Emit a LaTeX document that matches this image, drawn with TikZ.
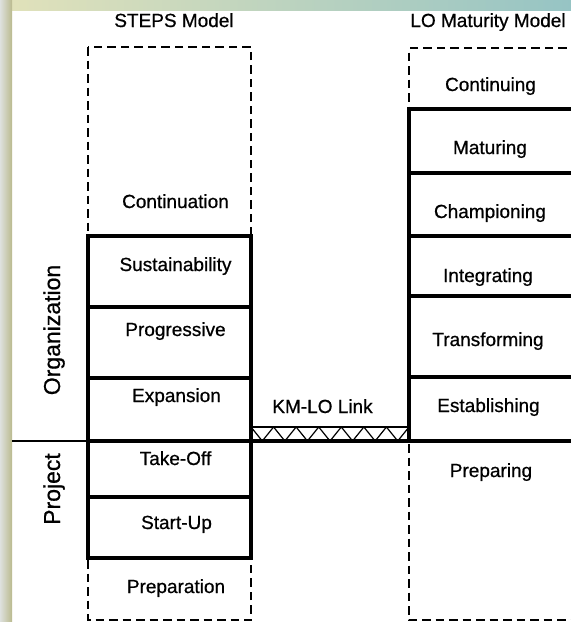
\documentclass[tikz,border=0pt]{standalone}
\usepackage{fontspec}
\setmainfont[FakeBold=0.7]{Liberation Sans}
\begin{document}
\begin{tikzpicture}[x=1pt,y=-1pt,
  solidbox/.style={draw=black, line width=4pt, minimum width=163pt, inner sep=0pt, outer sep=0pt, anchor=north west},
  lobox/.style={draw=black, line width=4pt, minimum width=175pt, inner sep=0pt, outer sep=0pt, anchor=north west},
  dashline/.style={draw=black, line width=2.8pt, dash pattern=on 8.5pt off 5pt},
  lbl/.style={font=\fontsize{19}{22}\selectfont, anchor=base, inner sep=0pt},
  sidelbl/.style={font=\fontsize{23}{26}\selectfont, anchor=base, rotate=90, inner sep=0pt},
]
\useasboundingbox (0,0) rectangle (571,622);
\clip (0,0) rectangle (571,622);
\fill[white] (0,0) rectangle (571,622);
% slide frame
\shade[left color={rgb,255:red,226;green,226;blue,186}, middle color={rgb,255:red,196;green,208;blue,190}, right color={rgb,255:red,150;green,196;blue,196}] (0,0) rectangle (571,10);
\shade[left color={rgb,255:red,222;green,225;blue,222}, right color={rgb,255:red,186;green,186;blue,142}] (0,0) rectangle (12,622);

% dashed outlines
\draw[dashline] (88,47) rectangle (251,620);
\draw[dashline] (580,48) -- (409,48) -- (409,620) -- (580,620);

% STEPS solid boxes
\node[solidbox, minimum height=71pt] (sust) at (88,236) {};
\node[solidbox, minimum height=71pt] (prog) at (88,307) {};
\node[solidbox, minimum height=63pt] (expa) at (88,378) {};
\node[solidbox, minimum height=56pt] (take) at (88,441) {};
\node[solidbox, minimum height=61pt] (start) at (88,497) {};

% LO solid boxes
\node[lobox, minimum height=64pt] (matu) at (409,109) {};
\node[lobox, minimum height=63pt] (champ) at (409,173) {};
\node[lobox, minimum height=60pt] (integ) at (409,236) {};
\node[lobox, minimum height=81pt] (trans) at (409,296) {};
\node[lobox, minimum height=64pt] (estab) at (409,377) {};

% organization / project divider
\coordinate (divL) at (12,441);
\draw[line width=2.5pt] (divL) -- (take.north west);

% KM-LO link
\node[draw=black, line width=1.5pt, minimum width=158pt, minimum height=14pt, inner sep=0pt, outer sep=0pt, anchor=south west] (link) at (251,441) {};
\draw[line width=1.2pt] (link.north west) foreach \i in {1,...,7} { -- ++(11.286,14) -- ++(11.286,-14)};
\draw[line width=4pt] (link.south west) -- (link.south east);

% titles
\node[lbl] (tsteps) at (174,27) {STEPS Model};
\node[lbl] (tlo) at (488,27) {LO Maturity Model};

% STEPS labels
\node[lbl] (tcontin) at (175.5,208) {Continuation};
\node[lbl] (tsust) at (175.5,271) {Sustainability};
\node[lbl] (tprog) at (175.5,336) {Progressive};
\node[lbl] (texpa) at (176.5,402) {Expansion};
\node[lbl] (ttake) at (175.5,465) {Take-Off};
\node[lbl] (tstart) at (176.5,529) {Start-Up};
\node[lbl] (tprep) at (176,593) {Preparation};

% LO labels
\node[lbl] (tconting) at (490.5,91) {Continuing};
\node[lbl] (tmatu) at (490,154) {Maturing};
\node[lbl] (tchamp) at (490,218) {Championing};
\node[lbl] (tinteg) at (488,282) {Integrating};
\node[lbl] (ttrans) at (488,346) {Transforming};
\node[lbl] (testab) at (488.5,412) {Establishing};
\node[lbl] (tpreping) at (491,477) {Preparing};

% link label
\node[lbl] (tlink) at (322.5,413) {KM-LO Link};

% side labels
\node[sidelbl] (org) at (60,330) {Organization};
\node[sidelbl] (proj) at (60,489) {Project};
\end{tikzpicture}
\end{document}
